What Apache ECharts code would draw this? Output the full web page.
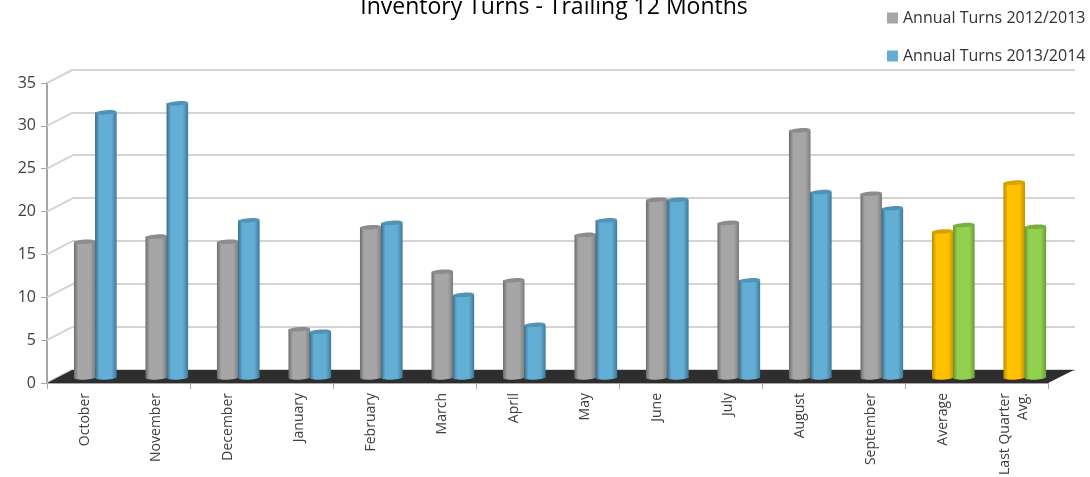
<!DOCTYPE html>
<html><head><meta charset="utf-8">
<style>html,body{margin:0;padding:0;background:#fff}#c{width:1090px;height:477px}</style>
<script src="https://cdn.jsdelivr.net/npm/echarts@6/dist/echarts.min.js"></script>
</head><body><div id="c"></div>
<script>
const categories = ['October','November','December','January','February','March','April','May','June','July','August','September','Average','Last Quarter\nAvg.'];
const turns2012 = [15.6,16.2,15.6,5.4,17.3,12.1,11.1,16.4,20.5,17.8,28.6,21.2,16.8,22.5];
const turns2013 = [30.7,31.75,18.1,5.1,17.8,9.4,5.9,18.1,20.5,11.1,21.4,19.5,17.55,17.35];
const yTicks = [0,5,10,15,20,25,30,35];
const summaryCategories = ['Average','Last Quarter\nAvg.'];

const FONT = '"Open Sans"';
const DX = 25, DY = 13;           // depth of the 3D box
const palette = {
  grey:   {edgeL:'#6c6c6c', main:'#a6a6a6', edgeR:'#7c7c7c', top:'#8c8c8c'},
  blue:   {edgeL:'#3c6a84', main:'#63aed4', edgeR:'#3f7a98', top:'#4f93b5'},
  orange: {edgeL:'#b98b00', main:'#ffc000', edgeR:'#c29200', top:'#d6a300'},
  green:  {edgeL:'#64902f', main:'#92d050', edgeR:'#6b9a38', top:'#79ad42'}
};
function cylinder(normal, summary, startFrac) {
  return function (params, api) {
    const idx = api.value(0), val = api.value(1);
    const p = summaryCategories.includes(categories[idx]) ? summary : normal;
    const band = api.size([1,0])[0];
    const top = api.coord([idx, val]);
    const base = api.coord([idx, 0]);
    const w = band * 0.302, x = top[0] + band * startFrac;
    const yT = top[1] - DY/2 - 1, yB = base[1] - DY/2 + 1;
    const grad = new echarts.graphic.LinearGradient(0,0,1,0,[
      {offset:0,color:p.edgeL},{offset:0.2,color:p.main},{offset:0.75,color:p.main},{offset:1,color:p.edgeR}]);
    const rx = w/2, ry = 2.2, cx = x + rx;
    return {type:'group',children:[
      {type:'ellipse',shape:{cx:cx,cy:yB,rx:rx,ry:ry},rotation:0.05,originX:cx,originY:yB,style:{fill:grad}},
      {type:'rect',shape:{x:x,y:yT,width:w,height:yB-yT},style:{fill:grad}},
      {type:'ellipse',shape:{cx:cx,cy:yT,rx:rx,ry:ry},rotation:0.07,originX:cx,originY:yT,style:{fill:p.top}}
    ]};
  };
}
const floorSeries = {
  type:'custom',silent:true,z:2,xAxisIndex:0,yAxisIndex:0,data:[0],
  renderItem(params,api){
    const g = params.coordSys, b = g.y+g.height, r = g.x+g.width;
    return {type:'polygon',shape:{points:[[g.x,b],[g.x+DX,b-DY],[r+DX+1,b-DY],[r,b]]},style:{fill:'#2e2e2e'}};
  }
};
const slantSeries = {
  type:'custom',silent:true,z:1,xAxisIndex:0,yAxisIndex:0,
  data:yTicks.map(v=>[0,v]),
  renderItem(params,api){
    const g = params.coordSys, y = api.coord([0,api.value(1)])[1];
    return {type:'line',shape:{x1:g.x,y1:y,x2:g.x+DX,y2:y-DY},style:{stroke:'#d4d4d4',lineWidth:2}};
  }
};
const chart = echarts.init(document.getElementById('c'),null,{renderer:'canvas'});
chart.setOption({
  animation:false,
  backgroundColor:'#fff',
  title:{text:'Inventory Turns - Trailing 12 Months',left:549,textAlign:'center',top:-9,
    textStyle:{fontFamily:FONT,fontSize:23,fontWeight:'normal',color:'#000'}},
  legend:{orient:'vertical',left:882,top:5,itemWidth:11,itemHeight:11,itemGap:22,icon:'rect',
    textStyle:{fontFamily:FONT,fontSize:16,color:'#333'},
    data:['Annual Turns 2012/2013','Annual Turns 2013/2014']},
  grid:[
    {left:47,top:83,width:1001,height:300,outerBoundsMode:'none'},
    {left:72,top:69.5,width:1003,height:300,outerBoundsMode:'none'},
    {left:49,top:83,width:1001,height:300,outerBoundsMode:'none'}
  ],
  xAxis:[
    {type:'category',gridIndex:0,data:categories,boundaryGap:true,
     axisLine:{lineStyle:{color:'#a6a6a6',width:2}},
     axisTick:{show:true,alignWithLabel:false,length:6,lineStyle:{color:'#a6a6a6',width:1}},
     axisLabel:{show:false}},
    {type:'category',gridIndex:1,data:categories,show:false},
    {type:'category',gridIndex:2,data:categories,boundaryGap:true,
     axisLine:{show:false},axisTick:{show:false},
     axisLabel:{rotate:90,interval:0,fontFamily:FONT,fontSize:14,color:'#404040',margin:10,lineHeight:18}}
  ],
  yAxis:[
    {type:'value',gridIndex:0,min:0,max:35,interval:5,
     axisLine:{show:true,lineStyle:{color:'#a6a6a6',width:2}},
     axisTick:{show:true,length:6,lineStyle:{color:'#a6a6a6',width:1}},
     axisLabel:{fontFamily:FONT,fontSize:16,color:'#404040',margin:11},
     splitLine:{show:false}},
    {type:'value',gridIndex:1,min:0,max:35,interval:5,
     axisLine:{show:false},axisTick:{show:false},axisLabel:{show:false},
     splitLine:{show:true,lineStyle:{color:'#d4d4d4',width:2}}},
    {type:'value',gridIndex:2,min:0,max:35,interval:5,show:false,splitLine:{show:false}}
  ],
  series:[
    floorSeries,slantSeries,
    {type:'custom',name:'Annual Turns 2012/2013',z:3,xAxisIndex:0,yAxisIndex:0,
     itemStyle:{color:palette.grey.main},encode:{x:0,y:1},
     data:turns2012.map((v,i)=>[i,v]),renderItem:cylinder(palette.grey,palette.orange,-0.123)},
    {type:'custom',name:'Annual Turns 2013/2014',z:4,xAxisIndex:0,yAxisIndex:0,
     itemStyle:{color:palette.blue.main},encode:{x:0,y:1},
     data:turns2013.map((v,i)=>[i,v]),renderItem:cylinder(palette.blue,palette.green,0.172)}
  ]
});
</script></body></html>
